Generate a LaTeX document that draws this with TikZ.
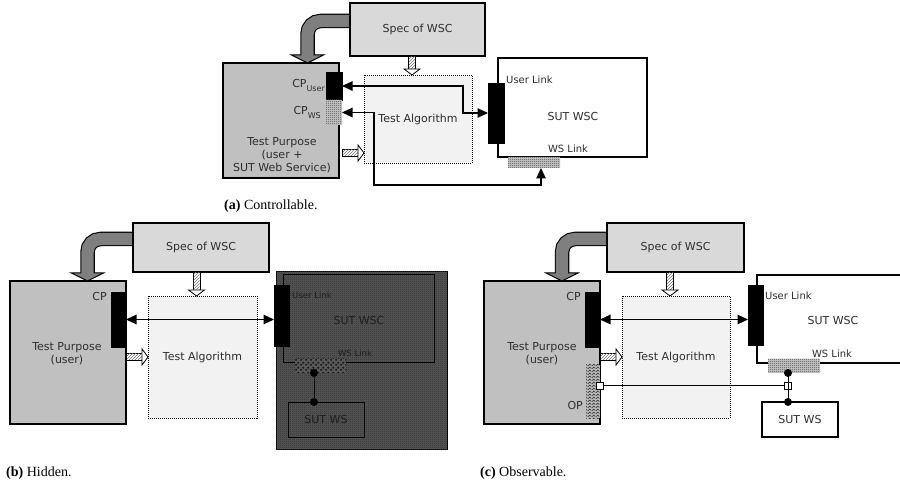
\documentclass[tikz,border=0pt]{standalone}
\usepackage{fontspec}
\setmainfont{DejaVu Sans}
\newfontfamily\capfont{Liberation Serif}
\usetikzlibrary{patterns,arrows.meta,calc}

\pgfdeclarepatternformonly{finecheck}{\pgfpointorigin}{\pgfqpoint{2pt}{2pt}}{\pgfqpoint{2pt}{2pt}}{%
  \pgfpathrectangle{\pgfpointorigin}{\pgfqpoint{1pt}{1pt}}%
  \pgfpathrectangle{\pgfqpoint{1pt}{1pt}}{\pgfqpoint{1pt}{1pt}}%
  \pgfusepath{fill}}
\pgfdeclarepatternformonly{blobcheck}{\pgfpointorigin}{\pgfqpoint{5pt}{5pt}}{\pgfqpoint{5pt}{5pt}}{%
  \pgfpathcircle{\pgfqpoint{1.25pt}{1.25pt}}{1.3pt}%
  \pgfpathcircle{\pgfqpoint{3.75pt}{3.75pt}}{1.3pt}%
  \pgfusepath{fill}}
\pgfdeclarepatternformonly{zigzagrows}{\pgfpointorigin}{\pgfqpoint{4pt}{3pt}}{\pgfqpoint{4pt}{3pt}}{%
  \pgfsetlinewidth{0.7pt}%
  \pgfpathmoveto{\pgfqpoint{0pt}{0.5pt}}%
  \pgfpathlineto{\pgfqpoint{2pt}{2.5pt}}%
  \pgfpathlineto{\pgfqpoint{4pt}{0.5pt}}%
  \pgfusepath{stroke}}

\definecolor{specgray}{HTML}{D9D9D9}
\definecolor{tpgray}{HTML}{C0C0C0}
\definecolor{tagray}{HTML}{F2F2F2}
\definecolor{arrgray}{HTML}{7F7F7F}
\definecolor{txt}{HTML}{2E2E2E}
\definecolor{hidgray}{HTML}{555555}
\definecolor{hidtxt}{HTML}{1E1E1E}

% big curved arrow: start, corner, tip
\newcommand\bigarrow[3]{%
  \draw[black, line width=14.5pt, rounded corners=13pt] (#1) -- (#2) -- ($(#3)+(0,-8)$);
  \draw[fill=arrgray, draw=black, line width=1pt, line join=miter] ($(#3)+(-16,-8)$) -- (#3) -- ($(#3)+(16,-8)$) -- cycle;
  \draw[arrgray, line width=12.3pt, rounded corners=13pt] (#1) -- (#2) -- ($(#3)+(0,-6.6)$);}
% hollow hatched arrow, pointing right
\newcommand\harrowR[2]{%
  \draw[line width=0.8pt, fill=white] ($(#1)+(0,-3.5)$) rectangle ($(#2)+(-6,3.5)$);
  \path[pattern=north east lines, pattern color=black!55] ($(#1)+(0.8,-3)$) rectangle ($(#2)+(-6.5,3)$);
  \draw[line width=0.8pt, fill=white, line join=miter] ($(#2)+(-6,-8)$) -- (#2) -- ($(#2)+(-6,8)$) -- cycle;}
% hollow hatched arrow, pointing down
\newcommand\harrowD[2]{%
  \draw[line width=0.8pt, fill=white] ($(#1)+(-3.5,0)$) rectangle ($(#2)+(3.5,-6)$);
  \path[pattern=north east lines, pattern color=black!55] ($(#1)+(-3,0.8)$) rectangle ($(#2)+(3,-6.5)$);
  \draw[line width=0.8pt, fill=white, line join=miter] ($(#2)+(-8,-6)$) -- (#2) -- ($(#2)+(8,-6)$) -- cycle;}

\tikzset{
  box/.style={draw=black, line width=1.1pt, inner sep=0pt, outer sep=0pt, text=txt},
  specbox/.style={box, fill=specgray},
  tpbox/.style={box, fill=tpgray},
  tabox/.style={draw=black, line width=0.9pt, dash pattern=on 1pt off 1pt, fill=tagray, inner sep=0pt, outer sep=0pt, text=txt},
  cpbar/.style={fill=black, draw=black, line width=0.5pt, inner sep=0pt, outer sep=0pt},
  chkbar/.style={fill=gray!40, postaction={pattern=finecheck, pattern color=black!70}, inner sep=0pt, outer sep=0pt},
  opbar/.style={fill=gray!55, postaction={pattern=zigzagrows, pattern color=black!80}, inner sep=0pt, outer sep=0pt},
  lbl/.style={text=txt, inner sep=0pt},
  smalltxt/.style={lbl, font=\fontsize{10}{12}\selectfont},
  tinytxt/.style={text=hidtxt, inner sep=0pt, font=\fontsize{8.5}{10}\selectfont},
  captext/.style={anchor=west, inner sep=0pt, text=black, font=\capfont\fontsize{14}{16}\selectfont},
  dblarrow/.style={line width=1.1pt, {Triangle[length=10.5pt,width=9.5pt]}-{Triangle[length=10.5pt,width=9.5pt]}},
  linkline/.style={line width=1pt},
  sqnode/.style={draw=black, fill=white, line width=0.8pt, minimum size=7pt, inner sep=0pt, outer sep=0pt},
}

\begin{document}
\begin{tikzpicture}[x=1pt, y=-1pt, font=\fontsize{11}{13}\selectfont]
\useasboundingbox (0,0) rectangle (900,486);
\fill[white] (0,0) rectangle (900,486);

% ================= (a) Controllable =================
\node[tpbox, minimum width=116pt, minimum height=115pt] (tpA) at (281,120.5) {};
\coordinate (bA0) at (352,21);
\coordinate (bAc) at (307.5,21);
\coordinate (bAe) at (tpA.north -| bAc);
\bigarrow{bA0}{bAc}{bAe}
\node[specbox, minimum width=135pt, minimum height=53pt] (specA) at (417.5,29.5) {Spec of WSC};
\node[lbl, align=center] (tpAt) at (282,155) {Test Purpose\\(user +\\SUT Web Service)};
\node[tabox, minimum width=108pt, minimum height=88pt] (taA) at (418,119) {Test Algorithm};
\node[cpbar, minimum width=16pt, minimum height=28pt] (cpuA) at (334,86) {};
\node[chkbar, minimum width=16pt, minimum height=25pt] (cpwA) at (334,112.5) {};
\node[lbl, anchor=east] (cpuAt) at (325,85) {CP\raisebox{-4pt}{\fontsize{8}{8}\selectfont User}};
\node[lbl, anchor=east] (cpwAt) at (321,112) {CP\raisebox{-4pt}{\fontsize{8}{8}\selectfont WS}};
\node[box, fill=white, minimum width=149pt, minimum height=99pt] (sutA) at (572.5,107.5) {};
\node[lbl] (sutAt) at (573,116) {SUT WSC};
\node[cpbar, minimum width=16pt, minimum height=60pt] (ulA) at (496,113) {};
\node[chkbar, minimum width=52pt, minimum height=11pt] (wlA) at (534,162.5) {};
\node[smalltxt, anchor=west] (ulAt) at (506,80) {User Link};
\node[smalltxt] (wlAt) at (568,149) {WS Link};
% hatched arrows
\coordinate (hA1) at ([xshift=-5.5pt]specA.south);
\coordinate (hA2) at (taA.north -| hA1);
\harrowD{hA1}{hA2}
\coordinate (hA3) at (cpuA.east |- 0,153);
\coordinate (hA4) at (taA.west |- 0,153);
\harrowR{hA3}{hA4}
% connectors
\draw[dblarrow] (cpuA.east) -- ++(121,0) |- (ulA.west);
\coordinate (wsA) at ([xshift=7pt]wlA.south);
\draw[dblarrow] (cpwA.east) -- ++(32,0) |- ($(wsA)+(0,17)$) -- (wsA);
\node[captext] (capA) at (224,206) {\textbf{(a)} Controllable.};

% ================= (b) Hidden =================
\node[tpbox, minimum width=116pt, minimum height=143pt] (tpB) at (68,352.5) {};
\coordinate (bB0) at (135,239);
\coordinate (bBc) at (87.5,239);
\coordinate (bBe) at (tpB.north -| bBc);
\bigarrow{bB0}{bBc}{bBe}
\node[specbox, minimum width=136pt, minimum height=49pt] (specB) at (201,247.5) {Spec of WSC};
\node[lbl, align=center] (tpBt) at (67,353.5) {Test Purpose\\(user)};
\node[cpbar, minimum width=15pt, minimum height=55pt] (cpB) at (118.5,319.5) {};
\node[lbl, anchor=east] (cpBt) at (107,296) {CP};
\node[tabox, minimum width=109pt, minimum height=122pt] (taB) at (202.5,357) {Test Algorithm};
\node[draw=black, line width=1pt, fill=hidgray, postaction={pattern=finecheck, pattern color=black!80},
      minimum width=171pt, minimum height=177pt, inner sep=0pt, outer sep=0pt] (hidB) at (361.5,360.5) {};
\node[draw=black, line width=1pt, minimum width=151pt, minimum height=88pt, inner sep=0pt, outer sep=0pt] (sutB) at (358.5,319) {};
\node[text=hidtxt, inner sep=0pt] (sutBt) at (359,320) {SUT WSC};
\node[cpbar, minimum width=15pt, minimum height=61pt] (ulB) at (281.5,315.5) {};
\node[fill=black!65, postaction={pattern=blobcheck, pattern color=black!90}, minimum width=51pt, minimum height=14pt,
      inner sep=0pt, outer sep=0pt] (wlB) at (320.5,366) {};
\node[tinytxt, anchor=west] (ulBt) at (292,295) {User Link};
\node[tinytxt] (wlBt) at (355,353) {WS Link};
\node[draw=black, line width=1pt, minimum width=76pt, minimum height=35pt, inner sep=0pt, outer sep=0pt, text=hidtxt] (wsB) at (326,419.5) {SUT WS};
\coordinate (dBx) at (314,0);
\coordinate (dB1) at (wlB.south -| dBx);
\coordinate (dB2) at (wsB.north -| dBx);
\draw[linkline, draw=black] (dB1) -- (dB2);
\fill[black] (dB1) circle[radius=4pt];
\fill[black] (dB2) circle[radius=4pt];
\coordinate (hB1) at ([xshift=-4.5pt]specB.south);
\coordinate (hB2) at (taB.north -| hB1);
\harrowD{hB1}{hB2}
\coordinate (hB3) at (tpB.east |- taB.west);
\harrowR{hB3}{taB.west}
\draw[dblarrow] (cpB.east) -- (cpB.east -| ulB.west);
\node[captext] (capB) at (6,473) {\textbf{(b)} Hidden.};

% ================= (c) Observable =================
\node[tpbox, minimum width=116pt, minimum height=143pt] (tpC) at (542,352.5) {};
\coordinate (bC0) at (609,239);
\coordinate (bCc) at (562,239);
\coordinate (bCe) at (tpC.north -| bCc);
\bigarrow{bC0}{bCc}{bCe}
\node[specbox, minimum width=137pt, minimum height=49pt] (specC) at (675.5,247.5) {Spec of WSC};
\node[lbl, align=center] (tpCt) at (542,353.5) {Test Purpose\\(user)};
\node[cpbar, minimum width=15pt, minimum height=55pt] (cpC) at (592.5,319.5) {};
\node[opbar, minimum width=14pt, minimum height=53pt] (opC) at (593,391.5) {};
\node[lbl, anchor=east] (cpCt) at (581,296) {CP};
\node[lbl, anchor=east] (opCt) at (583,405) {OP};
\node[tabox, minimum width=108pt, minimum height=122pt] (taC) at (676,357) {Test Algorithm};
\coordinate (sC1) at (900,275);
\coordinate (sC2) at (757,275);
\coordinate (sC3) at (757,363);
\coordinate (sC4) at (900,363);
\draw[line width=1.1pt] (sC1) -- (sC2) -- (sC3) -- (sC4);
\node[lbl] (sutCt) at (833,320) {SUT WSC};
\node[cpbar, minimum width=15pt, minimum height=60pt] (ulC) at (755.5,315) {};
\node[chkbar, minimum width=52pt, minimum height=14pt] (wlC) at (794,366) {};
\node[smalltxt, anchor=west] (ulCt) at (765,296) {User Link};
\node[smalltxt] (wlCt) at (832,354) {WS Link};
\node[box, fill=white, minimum width=76pt, minimum height=35pt] (wsC) at (800,419.5) {SUT WS};
\node[sqnode] (sqL) at (600,386) {};
\node[sqnode] (sqR) at (788,386) {};
\draw[linkline] (sqL) -- (sqR);
\coordinate (dCx) at (788,0);
\coordinate (dC1) at (wlC.south -| dCx);
\coordinate (dC2) at (wsC.north -| dCx);
\draw[linkline] (dC1) -- (dC2);
\fill[black] (dC1) circle[radius=4pt];
\fill[black] (dC2) circle[radius=4pt];
\coordinate (hC1) at ([xshift=-5.5pt]specC.south);
\coordinate (hC2) at (taC.north -| hC1);
\harrowD{hC1}{hC2}
\coordinate (hC3) at (tpC.east |- taC.west);
\harrowR{hC3}{taC.west}
\draw[dblarrow] (cpC.east) -- (cpC.east -| ulC.west);
\node[captext] (capC) at (480,473) {\textbf{(c)} Observable.};
\end{tikzpicture}
\end{document}
